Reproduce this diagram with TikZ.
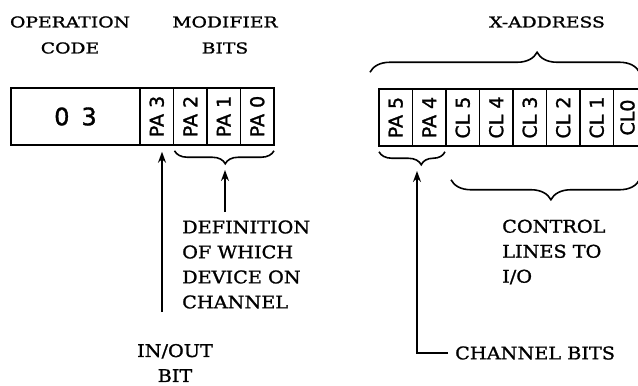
\documentclass[tikz,border=0pt]{standalone}
\usepackage{fontspec}
\setmainfont{DejaVu Serif}[FakeStretch=1.25, FakeBold=1.2]
\newfontfamily\notefont{DejaVu Serif}[FakeStretch=1.1, FakeBold=1.2]
\newfontfamily\cellfont{DejaVu Sans}[FakeBold=1.4]
\usetikzlibrary{positioning,arrows.meta,decorations.pathreplacing}

\begin{document}
\begin{tikzpicture}[
    x=1pt, y=-1pt,
    >={Stealth[length=11pt,width=8pt]},
    node distance=0pt,
    cell/.style={draw, rectangle, line width=1.6pt, outer sep=0pt, inner sep=0pt, minimum height=56.5pt, minimum width=33.5pt, font=\cellfont\fontsize{19}{19}\selectfont},
    opcell/.style={cell, minimum width=129pt, font=\cellfont\fontsize{24}{24}\selectfont},
    heading/.style={align=center, inner sep=0pt, font=\fontsize{15}{26}\selectfont},
    note/.style={align=left, anchor=west, inner sep=0pt, font=\notefont\fontsize{17.5}{25}\selectfont},
    connector/.style={->, line width=1.6pt},
    bracket/.style={decorate, line width=1.6pt}
]
    \useasboundingbox (0,0) rectangle (638,386);

    % instruction word, left part
    \node [opcell] (op) at (75.5,116.5) {0\hspace{12pt}3};
    \node [cell, right=of op] (pa3) {\rotatebox{90}{PA 3}};
    \node [cell, right=of pa3] (pa2) {\rotatebox{90}{PA 2}};
    \node [cell, right=of pa2] (pa1) {\rotatebox{90}{PA 1}};
    \node [cell, right=of pa1] (pa0) {\rotatebox{90}{PA 0}};

    % x-address
    \node [cell] (pa5) at (395.75,117.5) {\rotatebox{90}{PA 5}};
    \node [cell, right=of pa5] (pa4) {\rotatebox{90}{PA 4}};
    \node [cell, right=of pa4] (cl5) {\rotatebox{90}{CL 5}};
    \node [cell, right=of cl5] (cl4) {\rotatebox{90}{CL 4}};
    \node [cell, right=of cl4] (cl3) {\rotatebox{90}{CL 3}};
    \node [cell, right=of cl3] (cl2) {\rotatebox{90}{CL 2}};
    \node [cell, right=of cl2] (cl1) {\rotatebox{90}{CL 1}};
    \node [cell, right=of cl1, minimum width=28pt] (cl0) {\rotatebox{90}{CL0}};

    \node [heading] (opcode_t) at (70,35) {OPERATION\\CODE};
    \node [heading] (modif_t) at (225,35) {MODIFIER\\BITS};
    \node [heading] (xaddr_t) at (547,22) {X-ADDRESS};
    \node [note] (defn_t) at (182,264.5) {DEFINITION\\OF WHICH\\DEVICE ON\\CHANNEL};
    \node [note] (ctrl_t) at (502,252) {CONTROL\\LINES TO\\I/O};
    \node [note, anchor=center, align=center] (io_t) at (175,363) {IN/OUT\\BIT};
    \node [note] (chan_t) at (455,353) {CHANNEL BITS};

    % braces
    \draw [bracket, decoration={brace, amplitude=13pt, aspect=0.49}] ([yshift=-6pt]pa0.south east) -- ([yshift=-6pt,xshift=1pt]pa2.south west);
    \draw [bracket, decoration={brace, amplitude=13pt, aspect=0.36}] ([yshift=-6pt,xshift=-1pt]pa4.south east) -- ([yshift=-6pt]pa5.south west);
    \draw [bracket, decoration={brace, amplitude=20pt, aspect=0.62}] ([xshift=-9pt,yshift=17pt]pa5.north west) -- ([xshift=-2pt,yshift=17pt]cl0.north east);
    \draw [bracket, decoration={brace, amplitude=20pt, aspect=0.47}] ([xshift=-2pt,yshift=-34pt]cl0.south east) -- ([xshift=5pt,yshift=-34pt]cl5.south west);

    % arrows
    \coordinate (io_foot) at (162,312);
    \coordinate (defn_foot) at (225,212);
    \coordinate (defn_tip) at (225,170);
    \coordinate (chan_tip) at (417,171);

    \draw [connector, shorten >=7pt] (io_foot) -- ([xshift=5.25pt]pa3.south);
    \draw [connector] (defn_foot) -- (defn_tip);
    \draw [connector] ([xshift=-7pt]chan_t.west) -| (chan_tip);

\end{tikzpicture}
\end{document}
